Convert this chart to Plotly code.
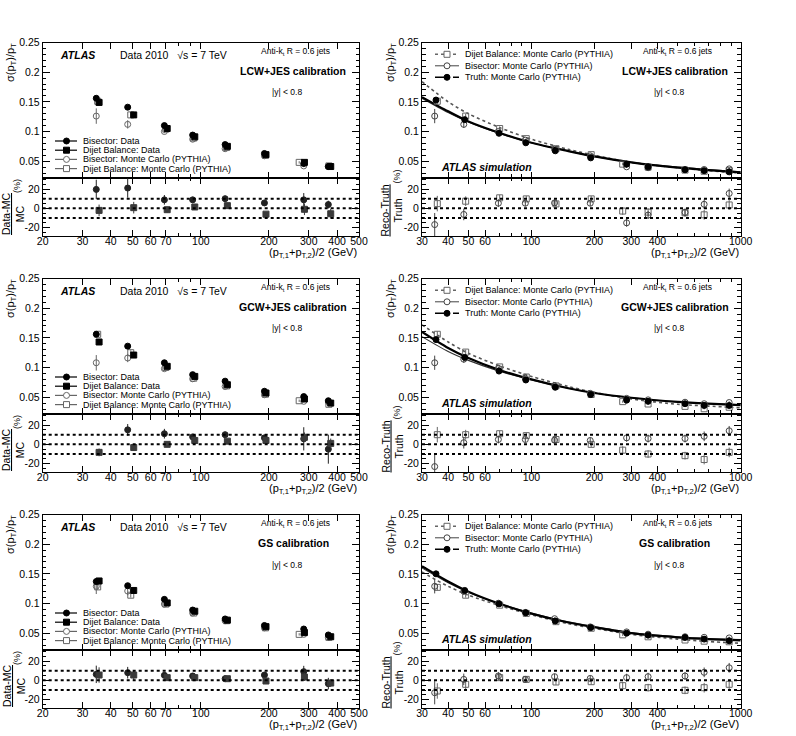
import math
import plotly.graph_objects as go

# ---------------- tick labels / texts ----------------
X_LABELS_LEFT = [20, 30, 40, 50, 60, 70, 100, 200, 300, 400, 500]
X_LABELS_RIGHT = [30, 40, 50, 60, 100, 200, 300, 400, 1000]
Y_LABELS_MAIN = [0.05, 0.1, 0.15, 0.2, 0.25]
Y_TEXT_MAIN = ['0.05', '0.1', '0.15', '0.2', '0.25']
Y_LABELS_RATIO = [-20, 0, 20]
Y_TEXT_RATIO = ['-20', '0', '20']
RATIO_LINES = [-10, 0, 10]
CALIBRATIONS = ['LCW+JES calibration', 'GCW+JES calibration', 'GS calibration']
LEGEND_LEFT = ['Bisector: Data', 'Dijet Balance: Data',
               'Bisector: Monte Carlo (PYTHIA)', 'Dijet Balance: Monte Carlo (PYTHIA)']
LEGEND_RIGHT = ['Dijet Balance: Monte Carlo (PYTHIA)', 'Bisector: Monte Carlo (PYTHIA)',
                'Truth: Monte Carlo (PYTHIA)']

# ---------------- data: Data vs MC (left column) ----------------
pt_bis = [34.5, 47.5, 69, 92, 128, 191, 285, 366]
pt_dij = [35.5, 50.5, 71, 94, 131, 194, 287, 375]
pt_dij_mc = [35, 49, 70, 93, 130, 193, 272, 368]

err_data = [0.004, 0.003, 0.002, 0.002, 0.002, 0.002, 0.002, 0.002]
err_bis_mc = [0.013, 0.007, 0.003, 0.002, 0.002, 0.002, 0.002, 0.002]
err_dij_mc = [0.005, 0.004, 0.003, 0.002, 0.002, 0.002, 0.002, 0.002]

lcw_bis_data = [0.156, 0.141, 0.110, 0.094, 0.078, 0.063, 0.046, 0.041]
lcw_dij_data = [0.149, 0.128, 0.105, 0.091, 0.075, 0.061, 0.048, 0.041]
lcw_bis_mc = [0.126, 0.112, 0.100, 0.087, 0.071, 0.059, 0.042, 0.041]
lcw_dij_mc = [0.151, 0.128, 0.104, 0.089, 0.073, 0.060, 0.048, 0.042]
lcw_ratio_bis = [19.6, 21.0, 8.8, 8.8, 10.0, 5.6, 8.8, 3.9]
lcw_ratio_bis_err = [10, 10, 5, 3, 3, 2, 7, 4]
lcw_ratio_dij = [-2.1, 0.7, -1.4, 1.4, 2.8, -6.0, -1.0, -5.6]
lcw_ratio_dij_err = [6, 6, 3, 2, 2, 2, 6, 5]

gcw_bis_data = [0.156, 0.136, 0.108, 0.088, 0.077, 0.060, 0.051, 0.044]
gcw_dij_data = [0.143, 0.121, 0.102, 0.085, 0.071, 0.057, 0.047, 0.040]
gcw_bis_mc = [0.108, 0.116, 0.098, 0.081, 0.068, 0.054, 0.043, 0.042]
gcw_dij_mc = [0.156, 0.125, 0.100, 0.082, 0.069, 0.055, 0.044, 0.038]
gcw_ratio_bis = [44.0, 15.0, 11.0, 7.7, 10.0, 6.7, 5.7, -5.0]
gcw_ratio_bis_err = [12, 6, 5, 3, 3, 3, 12, 15]
gcw_ratio_dij = [-8.3, -3.3, 0.0, 4.0, 3.3, 4.0, 7.3, 1.0]
gcw_ratio_dij_err = [4, 3, 2, 2, 2, 2, 5, 5]

gs_bis_data = [0.137, 0.130, 0.107, 0.089, 0.074, 0.063, 0.057, 0.047]
gs_dij_data = [0.138, 0.122, 0.101, 0.087, 0.072, 0.061, 0.051, 0.044]
gs_bis_mc = [0.129, 0.121, 0.099, 0.084, 0.071, 0.059, 0.048, 0.043]
gs_dij_mc = [0.128, 0.114, 0.099, 0.084, 0.071, 0.059, 0.048, 0.043]
gs_ratio_bis = [6.2, 7.9, 5.2, 4.5, 1.7, 5.5, 9.0, -3.4]
gs_ratio_bis_err = [9, 6, 3, 3, 2, 2, 6, 6]
gs_ratio_dij = [5.5, 5.5, 2.8, 2.8, 1.7, -0.7, 3.4, -2.8]
gs_ratio_dij_err = [8, 5, 3, 2, 2, 3, 4, 4]

# ---------------- data: MC closure (right column) ----------------
pt_truth = [35, 48, 70, 94, 130, 192, 285, 361, 542, 669, 881]
pt_bis_r = [34.5, 47.5, 69.5, 93.5, 129, 191, 285, 361, 542, 669, 881]
pt_dij_r = [35.5, 48.5, 70.5, 94.5, 131, 193, 273, 361, 542, 669, 881]
err_truth = [0.003, 0.002, 0.002, 0.001, 0.001, 0.001, 0.001, 0.001, 0.001, 0.001, 0.001]
err_bis_r = [0.012, 0.006, 0.003, 0.002, 0.002, 0.001, 0.002, 0.001, 0.001, 0.001, 0.002]
err_dij_r = [0.005, 0.004, 0.003, 0.002, 0.002, 0.002, 0.002, 0.001, 0.001, 0.001, 0.002]
fit_pt = [30, 40, 50, 70, 100, 150, 200, 300, 500, 700, 1000]

lcw_truth = [0.153, 0.120, 0.097, 0.081, 0.0675, 0.0556, 0.045, 0.0405, 0.0355, 0.034, 0.032]
lcw_bis_r = [0.126, 0.112, 0.100, 0.0855, 0.070, 0.059, 0.0405, 0.039, 0.036, 0.036, 0.037]
lcw_dij_r = [0.151, 0.126, 0.105, 0.088, 0.071, 0.061, 0.045, 0.040, 0.035, 0.033, 0.034]
lcw_fit_truth = [0.158, 0.134, 0.117, 0.098, 0.081, 0.067, 0.058, 0.048, 0.039, 0.035, 0.031]
lcw_fit_bis = [0.156, 0.132, 0.116, 0.097, 0.081, 0.067, 0.058, 0.048, 0.040, 0.036, 0.032]
lcw_fit_dij = [0.184, 0.150, 0.130, 0.107, 0.087, 0.070, 0.060, 0.048, 0.039, 0.034, 0.030]
lcw_rr_bis = [-16.8, -6.3, 5.3, 5.3, 5.6, 5.3, -15.0, -7.0, -4.2, 4.2, 15.4]
lcw_rr_dij = [4.9, 7.4, 10.9, 9.8, 4.6, 9.8, -2.8, -3.9, -4.6, -6.7, 3.5]

gcw_truth = [0.147, 0.117, 0.094, 0.079, 0.0667, 0.0544, 0.045, 0.043, 0.039, 0.036, 0.036]
gcw_bis_r = [0.108, 0.114, 0.0985, 0.082, 0.0695, 0.0565, 0.048, 0.0455, 0.0415, 0.039, 0.041]
gcw_dij_r = [0.156, 0.126, 0.101, 0.084, 0.069, 0.0545, 0.0425, 0.0385, 0.0345, 0.0305, 0.033]
gcw_fit_truth = [0.160, 0.133, 0.116, 0.096, 0.080, 0.065, 0.057, 0.049, 0.042, 0.039, 0.0365]
gcw_fit_bis = [0.152, 0.127, 0.112, 0.094, 0.079, 0.065, 0.057, 0.049, 0.042, 0.039, 0.037]
gcw_fit_dij = [0.172, 0.143, 0.124, 0.103, 0.085, 0.068, 0.058, 0.047, 0.038, 0.035, 0.032]
gcw_rr_bis = [-23.0, 1.7, 5.0, 5.0, 4.3, 4.0, 6.7, 6.0, 6.0, 8.3, 14.0]
gcw_rr_dij = [10.0, 10.0, 11.0, 9.0, 5.0, 0.0, -6.0, -10.0, -11.7, -15.7, -8.3]

gs_truth = [0.150, 0.122, 0.0994, 0.0844, 0.0706, 0.0594, 0.050, 0.0467, 0.0428, 0.040, 0.0372]
gs_bis_r = [0.129, 0.1206, 0.1005, 0.085, 0.0744, 0.0606, 0.0522, 0.0483, 0.044, 0.043, 0.042]
gs_dij_r = [0.1272, 0.114, 0.0972, 0.0833, 0.0694, 0.0583, 0.0472, 0.0439, 0.0385, 0.0365, 0.0355]
gs_fit_truth = [0.163, 0.137, 0.120, 0.100, 0.083, 0.068, 0.060, 0.050, 0.043, 0.040, 0.038]
gs_fit_bis = [0.160, 0.135, 0.119, 0.100, 0.084, 0.069, 0.061, 0.051, 0.044, 0.041, 0.039]
gs_fit_dij = [0.153, 0.129, 0.114, 0.097, 0.081, 0.066, 0.058, 0.048, 0.040, 0.036, 0.033]
gs_rr_bis = [-12.8, 1.0, 4.5, 1.0, 3.8, 2.0, 2.8, 3.8, 4.5, 8.3, 13.0]
gs_rr_dij = [-11.0, -4.1, 2.8, 1.0, -1.7, -1.4, -5.5, -7.6, -10.3, -7.6, -4.1]
rr_bis_err = [12, 6, 4, 3, 3, 3, 4, 4, 4, 5, 5]
rr_dij_err = [8, 5, 3, 3, 3, 3, 4, 4, 4, 5, 5]

LEFT_PANELS = [
    (lcw_bis_data, lcw_dij_data, lcw_bis_mc, lcw_dij_mc, lcw_ratio_bis, lcw_ratio_bis_err, lcw_ratio_dij, lcw_ratio_dij_err),
    (gcw_bis_data, gcw_dij_data, gcw_bis_mc, gcw_dij_mc, gcw_ratio_bis, gcw_ratio_bis_err, gcw_ratio_dij, gcw_ratio_dij_err),
    (gs_bis_data, gs_dij_data, gs_bis_mc, gs_dij_mc, gs_ratio_bis, gs_ratio_bis_err, gs_ratio_dij, gs_ratio_dij_err),
]
RIGHT_PANELS = [
    (lcw_truth, lcw_bis_r, lcw_dij_r, lcw_fit_truth, lcw_fit_bis, lcw_fit_dij, lcw_rr_bis, lcw_rr_dij),
    (gcw_truth, gcw_bis_r, gcw_dij_r, gcw_fit_truth, gcw_fit_bis, gcw_fit_dij, gcw_rr_bis, gcw_rr_dij),
    (gs_truth, gs_bis_r, gs_dij_r, gs_fit_truth, gs_fit_bis, gs_fit_dij, gs_rr_bis, gs_rr_dij),
]

# ---------------- layout geometry (pixels) ----------------
W, H = 796, 736
FONT = 'Liberation Sans, Arial, Helvetica, sans-serif'
COLS = [(42.7, 359.0), (422.0, 740.7)]
ROW_TOP = [42.5, 278.5, 514.5]
MAIN_H = 135.0
RATIO_H = 58.5
MAIN_RANGE = [0.0225, 0.25]
RATIO_RANGE = [-28.6, 31.9]
GRAY = '#666666'
DARK = '#222222'
MS = 6


def pxf(x):
    return x / W


def pyf(y):
    return 1 - y / H


def aid(n):
    return '' if n == 1 else str(n)


def minor_log(lo, hi, labels):
    vals = []
    d = 1
    while d <= hi:
        for m in range(1, 10):
            v = m * d
            if lo <= v <= hi and v not in labels:
                vals.append(v)
        d *= 10
    return vals


def minor_lin(lo, hi, step, labels):
    vals = []
    i = math.ceil(lo / step)
    while i * step <= hi + 1e-9:
        v = round(i * step, 6)
        if all(abs(v - l) > 1e-9 for l in labels):
            vals.append(v)
        i += 1
    return vals


def base_axis():
    return dict(showline=True, linecolor='black', linewidth=1, mirror='ticks',
                ticks='inside', ticklen=7, tickwidth=1, tickcolor='black',
                showgrid=False, zeroline=False, automargin=False,
                tickfont=dict(family=FONT, size=10.5, color='black'))


fig = go.Figure()
layout = dict(width=W, height=H,
              margin=dict(l=0, r=0, t=0, b=0, pad=0, autoexpand=False),
              paper_bgcolor='white', plot_bgcolor='white', showlegend=False,
              font=dict(family=FONT, size=10, color='black'))
shapes = []
annotations = []


def ann(x, y, text, size=10, xanchor='left', yanchor='middle', angle=0, color='black'):
    annotations.append(dict(x=pxf(x), y=pyf(y), xref='paper', yref='paper', text=text,
                            showarrow=False, xanchor=xanchor, yanchor=yanchor,
                            textangle=angle, font=dict(family=FONT, size=size, color=color)))


def pts(x, y, err, n, symbol, color, size=MS):
    return go.Scatter(x=x, y=y, mode='markers', xaxis='x' + aid(n), yaxis='y' + aid(n),
                      marker=dict(symbol=symbol, size=size, color=color,
                                  line=dict(width=1.0, color=color)),
                      error_y=dict(type='data', array=err, color=color, thickness=1, width=0),
                      hoverinfo='skip', showlegend=False)


def curve(x, y, n, color, width, dash):
    return go.Scatter(x=x, y=y, mode='lines', xaxis='x' + aid(n), yaxis='y' + aid(n),
                      line=dict(color=color, width=width, dash=dash, shape='spline', smoothing=0.8),
                      hoverinfo='skip', showlegend=False)


def leg_line(xa, xb, y, color, width, dash):
    shapes.append(dict(type='line', xref='paper', yref='paper', x0=pxf(xa), x1=pxf(xb),
                       y0=pyf(y), y1=pyf(y), line=dict(color=color, width=width, dash=dash)))


def leg_marker(x, y, kind, filled, color, s=MS):
    shapes.append(dict(type=kind, xref='paper', yref='paper', xsizemode='pixel', ysizemode='pixel',
                       xanchor=pxf(x), yanchor=pyf(y), x0=-s / 2, x1=s / 2, y0=-s / 2, y1=s / 2,
                       line=dict(color=color, width=1.0),
                       fillcolor=color if filled else 'white'))


for row in range(3):
    for col in range(2):
        k = row * 2 + col
        nm, nr = 2 * k + 1, 2 * k + 2
        x0p, x1p = COLS[col]
        top = ROW_TOP[row]
        mid = top + MAIN_H
        bot = mid + RATIO_H
        labels = X_LABELS_LEFT if col == 0 else X_LABELS_RIGHT
        lo, hi = labels[0], labels[-1]
        xr = [math.log10(lo), math.log10(hi)]

        xm = base_axis()
        xm.update(type='log', range=xr, domain=[pxf(x0p), pxf(x1p)], anchor='y' + aid(nm),
                  tickmode='array', tickvals=labels, ticktext=[str(v) for v in labels],
                  showticklabels=False, ticklen=6,
                  minor=dict(tickmode='array', tickvals=minor_log(lo, hi, labels),
                             ticks='inside', ticklen=3.5, tickcolor='black'))
        ym = base_axis()
        ym.update(range=MAIN_RANGE, domain=[pyf(mid), pyf(top)], anchor='x' + aid(nm),
                  tickmode='array', tickvals=Y_LABELS_MAIN, ticktext=Y_TEXT_MAIN,
                  minor=dict(tickmode='array',
                             tickvals=minor_lin(MAIN_RANGE[0], MAIN_RANGE[1], 0.01, Y_LABELS_MAIN),
                             ticks='inside', ticklen=3.5, tickcolor='black'))
        xq = base_axis()
        xq.update(type='log', range=xr, domain=[pxf(x0p), pxf(x1p)], anchor='y' + aid(nr),
                  tickmode='array', tickvals=labels, ticktext=[str(v) for v in labels],
                  ticklen=6, ticklabelstandoff=-5,
                  minor=dict(tickmode='array', tickvals=minor_log(lo, hi, labels),
                             ticks='inside', ticklen=3.5, tickcolor='black'))
        yq = base_axis()
        yq.update(range=RATIO_RANGE, domain=[pyf(bot), pyf(mid)], anchor='x' + aid(nr),
                  tickmode='array', tickvals=Y_LABELS_RATIO, ticktext=Y_TEXT_RATIO,
                  minor=dict(tickmode='array',
                             tickvals=minor_lin(RATIO_RANGE[0], RATIO_RANGE[1], 5, Y_LABELS_RATIO),
                             ticks='inside', ticklen=3.5, tickcolor='black'))
        layout['xaxis' + aid(nm)] = xm
        layout['yaxis' + aid(nm)] = ym
        layout['xaxis' + aid(nr)] = xq
        layout['yaxis' + aid(nr)] = yq

        for v in RATIO_LINES:
            shapes.append(dict(type='line', xref='x' + aid(nr) + ' domain', yref='y' + aid(nr),
                               x0=0, x1=1, y0=v, y1=v,
                               line=dict(color='black', width=2, dash='dot')))

        if col == 0:
            bd, dd, bm, dm, rb, rbe, rd, rde = LEFT_PANELS[row]
            fig.add_trace(pts(pt_bis, bm, err_bis_mc, nm, 'circle-open', GRAY))
            fig.add_trace(pts(pt_dij_mc, dm, err_dij_mc, nm, 'square-open', GRAY))
            fig.add_trace(pts(pt_bis, bd, err_data, nm, 'circle', 'black'))
            fig.add_trace(pts(pt_dij, dd, err_data, nm, 'square', 'black'))
            fig.add_trace(pts(pt_bis, rb, rbe, nr, 'circle', DARK))
            fig.add_trace(pts(pt_dij, rd, rde, nr, 'square', '#3a3a3a'))
        else:
            tr, bi, dj, ft, fb, fd, rb, rd = RIGHT_PANELS[row]
            fig.add_trace(curve(fit_pt, fd, nm, '#555555', 1.6, 'dot'))
            fig.add_trace(curve(fit_pt, fb, nm, '#333333', 1.2, 'solid'))
            fig.add_trace(curve(fit_pt, ft, nm, 'black', 2.2, 'solid'))
            fig.add_trace(pts(pt_dij_r, dj, err_dij_r, nm, 'square-open', GRAY))
            fig.add_trace(pts(pt_bis_r, bi, err_bis_r, nm, 'circle-open', '#444444'))
            fig.add_trace(pts(pt_truth, tr, err_truth, nm, 'circle', 'black'))
            fig.add_trace(pts(pt_dij_r, rd, rr_dij_err, nr, 'square-open', GRAY))
            fig.add_trace(pts(pt_bis_r, rb, rr_bis_err, nr, 'circle-open', '#444444'))

        ytitle_x = 11 if col == 0 else 391
        ann(ytitle_x, top - 1, 'σ(p<sub>T</sub>)/p<sub>T</sub>', size=11,
            xanchor='center', yanchor='top', angle=-90)
        if col == 0:
            ann(13.5, top + 172, '<u>Data-MC</u><br>MC', size=10.5, xanchor='center', angle=-90)
            ann(17, top + 143.5, '(%)', size=9, xanchor='center', angle=-90)
        else:
            ann(392, top + 168, '<u>Reco-Truth</u><br>Truth', size=10.5, xanchor='center', angle=-90)
            ann(396, top + 134, '(%)', size=9, xanchor='center', angle=-90)
        ann(x1p, bot + 17, '(p<sub>T,1</sub>+p<sub>T,2</sub>)/2 (GeV)', size=11, xanchor='right')

        ann(x1p - 63.5, top + 9.3, 'Anti-k<sub>t</sub> R = 0.6 jets', size=8.5, xanchor='center')
        ann(x1p - 66, top + 28.5, '<b>' + CALIBRATIONS[row] + '</b>', size=10.5, xanchor='center')
        ann(x1p - 72, top + 50, '|y| &lt; 0.8', size=8.5, xanchor='center')

        if col == 0:
            ann(x0p + 15.3, top + 12, '<b><i>ATLAS</i></b>', size=10.5)
            ann(x0p + 75.3, top + 12, 'Data 2010   √s = 7 TeV', size=10.5)
            styles = [('circle', True, 'black'), ('rect', True, 'black'),
                      ('circle', False, GRAY), ('rect', False, GRAY)]
            for i, (lab, (kind, filled, colr)) in enumerate(zip(LEGEND_LEFT, styles)):
                yy = top + 98.5 + i * 9.2
                leg_line(x0p + 12.3, x0p + 34.3, yy, colr, 1.2, 'solid')
                leg_marker(x0p + 23.8, yy, kind, filled, colr)
                ann(x0p + 38.3, yy, lab, size=9)
        else:
            ann(x0p + 17, top + 124, '<b><i>ATLAS simulation</i></b>', size=10.5)
            styles = [('rect', False, GRAY, 'dot', 1.6), ('circle', False, '#444444', 'solid', 1.0),
                      ('circle', True, 'black', 'dashdot', 1.4)]
            for i, (lab, (kind, filled, colr, dash, lw)) in enumerate(zip(LEGEND_RIGHT, styles)):
                yy = top + 11.8 + i * 11.5
                leg_line(x0p + 13, x0p + 37, yy, colr, lw, dash)
                leg_marker(x0p + 25, yy, kind, filled, colr)
                ann(x0p + 41, yy, lab, size=9)

layout['shapes'] = shapes
layout['annotations'] = annotations
fig.update_layout(**layout)
fig.write_html('out.html', config={'displayModeBar': False},
               post_script="document.body.style.margin='0px';")
